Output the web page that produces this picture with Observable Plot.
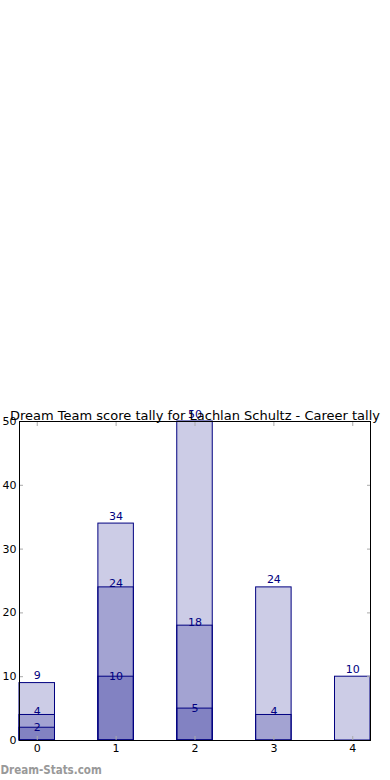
<!DOCTYPE html>
<html>
<head>
<meta charset="utf-8">
<script src="https://cdn.jsdelivr.net/npm/d3@7"></script>
<script src="https://cdn.jsdelivr.net/npm/@observablehq/plot@0.6"></script>
<style>
  html, body { margin: 0; padding: 0; background: #fff; }
  svg { display: block; }
</style>
</head>
<body>
<div id="chart"></div>
<script>
const title = "Dream Team score tally for Lachlan Schultz - Career tally";
const watermark = "Dream-Stats.com";
const categories = [0, 1, 2, 3, 4];
const seriesLight = [9, 34, 50, 24, 10];
const seriesMid = [4, 24, 18, 4, null];
const seriesDark = [2, 10, 5, null, null];
const yTicks = [0, 10, 20, 30, 40, 50];

const halfWidth = 0.225;
const seriesList = [
  {name: "light", values: seriesLight, dy: -4},
  {name: "mid", values: seriesMid, dy: 0},
  {name: "dark", values: seriesDark, dy: 3}
];

const marks = [];
for (const s of seriesList) {
  const rows = categories.map((c, i) => ({cat: c, value: s.values[i]})).filter(d => d.value != null);
  marks.push(Plot.rectY(rows, {
    x1: d => d.cat - halfWidth, x2: d => d.cat + halfWidth, y1: 0, y2: "value",
    fill: "navy", fillOpacity: 0.2, stroke: "navy", strokeWidth: 1
  }));
}
for (const s of seriesList) {
  const rows = categories.map((c, i) => ({cat: c, value: s.values[i]})).filter(d => d.value != null);
  marks.push(Plot.text(rows, {
    x: "cat", y: "value", text: d => String(d.value), lineAnchor: "bottom",
    dy: s.dy, fill: "navy", fontSize: 11
  }));
}

const tickColor = "#aaaaaa";
const chart = Plot.plot({
  width: 390,
  height: 780,
  marginTop: 421,
  marginLeft: 19,
  marginRight: 20,
  marginBottom: 40,
  style: {fontFamily: "DejaVu Sans", fontSize: "11px", background: "#fff", color: "black"},
  x: {type: "linear", domain: [-halfWidth, categories[categories.length - 1] + halfWidth], label: null},
  y: {domain: [0, 50], label: null},
  marks: [
    ...marks,
    Plot.axisX({anchor: "bottom", ticks: categories, tickFormat: d => String(d), tickSize: 0, tickPadding: 4, fontSize: 11, fill: "black", label: null}),
    Plot.axisX({anchor: "bottom", ticks: categories, tickSize: 4, dy: -4, text: null, stroke: tickColor, label: null}),
    Plot.axisX({anchor: "top", ticks: categories, tickSize: 4, dy: 4, text: null, stroke: tickColor, label: null}),
    Plot.axisY({anchor: "left", ticks: yTicks, tickFormat: d => String(d), tickSize: 0, tickPadding: 3, fontSize: 11, fill: "black", label: null}),
    Plot.axisY({anchor: "left", ticks: yTicks, tickSize: 4, dx: 4, text: null, stroke: tickColor, label: null}),
    Plot.axisY({anchor: "right", ticks: yTicks, tickSize: 4, dx: -4, text: null, stroke: tickColor, label: null}),
    Plot.frame({stroke: "black", strokeWidth: 1}),
    Plot.text([title], {frameAnchor: "top", dy: -2, lineAnchor: "bottom", fontSize: 13, fill: "black", text: d => d}),
    Plot.text([watermark], {frameAnchor: "bottom-left", dx: -19, dy: 30, textAnchor: "start", lineAnchor: "middle", fontSize: 11.5, fontWeight: "bold", fontFamily: "DejaVu Sans Condensed", fill: "#999999", text: d => d})
  ]
});
document.getElementById("chart").appendChild(chart);
</script>
</body>
</html>
